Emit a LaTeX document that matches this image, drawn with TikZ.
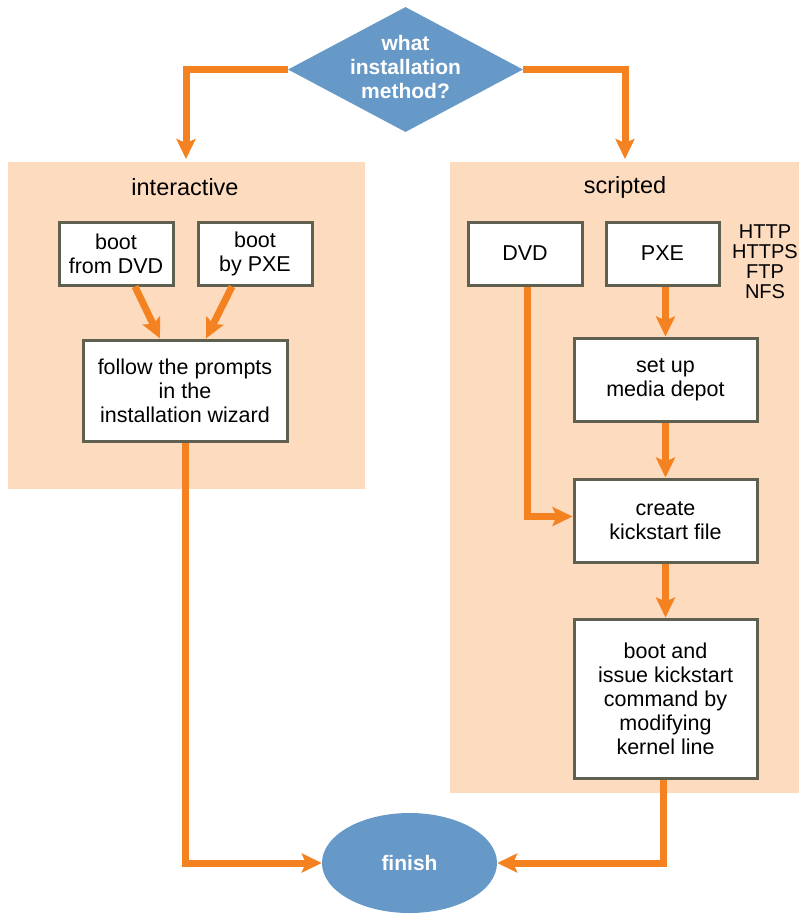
\documentclass[tikz,border=0pt]{standalone}
\usepackage{fontspec}
\setmainfont{Liberation Sans}
\usetikzlibrary{shapes.geometric,arrows.meta}
\definecolor{flowarrow}{RGB}{245,130,32}
\definecolor{panelfill}{RGB}{253,219,191}
\definecolor{decisionblue}{RGB}{102,153,199}
\definecolor{boxline}{RGB}{96,96,80}

\begin{document}
\begin{tikzpicture}[x=1pt,y=-1pt,
    box/.style={draw=boxline,line width=3pt,fill=white,align=center,inner sep=0pt,
        font=\fontsize{21.5}{24}\selectfont},
    flow/.style={draw=flowarrow,line width=7pt,-{Stealth[length=20pt,width=19pt,inset=4pt]}},
    title/.style={font=\fontsize{23.5}{26}\selectfont}]
    \useasboundingbox (0,0) rectangle (799,914);
    % two panels
    \fill[panelfill] (8,162) rectangle (365,489);
    \fill[panelfill] (450,162) rectangle (799,793);
    \node[title] (tinter) at (185,187) {interactive};
    \node[title] (tscript) at (625,187) {scripted};

    % decision and end
    \node[diamond,fill=decisionblue,minimum width=235pt,minimum height=125pt,inner sep=0pt,
        label={[text=white,align=center,yshift=3pt,font=\fontsize{21}{24}\selectfont\bfseries]center:what\\installation\\method?}]
        (method) at (405.5,69.5) {};
    \node[ellipse,fill=decisionblue,minimum width=175pt,minimum height=100pt,
        text=white,font=\fontsize{21}{24}\selectfont\bfseries] (finish) at (409.5,863) {finish};

    % interactive side
    \node[box,minimum width=114pt,minimum height=63pt] (bootdvd) at (116,253.5) {boot\\from DVD};
    \node[box,minimum width=114pt,minimum height=63pt] (bootpxe) at (255,253.5) {boot\\by PXE};
    \node[box,minimum width=204pt,minimum height=101pt] (wizard) at (185,390.5) {follow the prompts\\in the\\installation wizard};

    % scripted side
    \node[box,minimum width=114pt,minimum height=63pt] (dvd) at (525,253.5) {DVD};
    \node[box,minimum width=113pt,minimum height=63pt] (pxe) at (662.5,253.5) {PXE};
    \node[align=center,font=\fontsize{20}{20}\selectfont] (proto) at (765,262) {HTTP\\HTTPS\\FTP\\NFS};
    \node[box,minimum width=183pt,minimum height=83pt] (depot) at (665.5,379.5) {set up\\media depot};
    \node[box,minimum width=183pt,minimum height=83pt] (kickfile) at (665.5,520.5) {create\\kickstart file};
    \node[box,minimum width=183pt,minimum height=159pt] (kickboot) at (665.5,698.5) {boot and\\issue kickstart\\command by\\modifying\\kernel line};

    \coordinate (inleft) at (186,159);
    \coordinate (inright) at (625,159);

    % connectors
    \draw[flow] (method.west) -| (inleft);
    \draw[flow] (method.east) -| (inright);
    \draw[flow] ([xshift=19pt]bootdvd.south) -- ([xshift=-25pt]wizard.north);
    \draw[flow] ([xshift=-23pt]bootpxe.south) -- ([xshift=21pt]wizard.north);
    \draw[flow] (wizard.south) |- (finish.west);
    \draw[flow] ([xshift=2pt]dvd.south) |- ([yshift=4pt]kickfile.west);
    \draw[flow] ([xshift=3pt]pxe.south) -- ([xshift=3pt]pxe.south |- depot.north);
    \draw[flow] (depot.south) -- (kickfile.north);
    \draw[flow] (kickfile.south) -- (kickboot.north);
    \draw[flow] ([xshift=-2pt]kickboot.south) |- (finish.east);
\end{tikzpicture}
\end{document}
